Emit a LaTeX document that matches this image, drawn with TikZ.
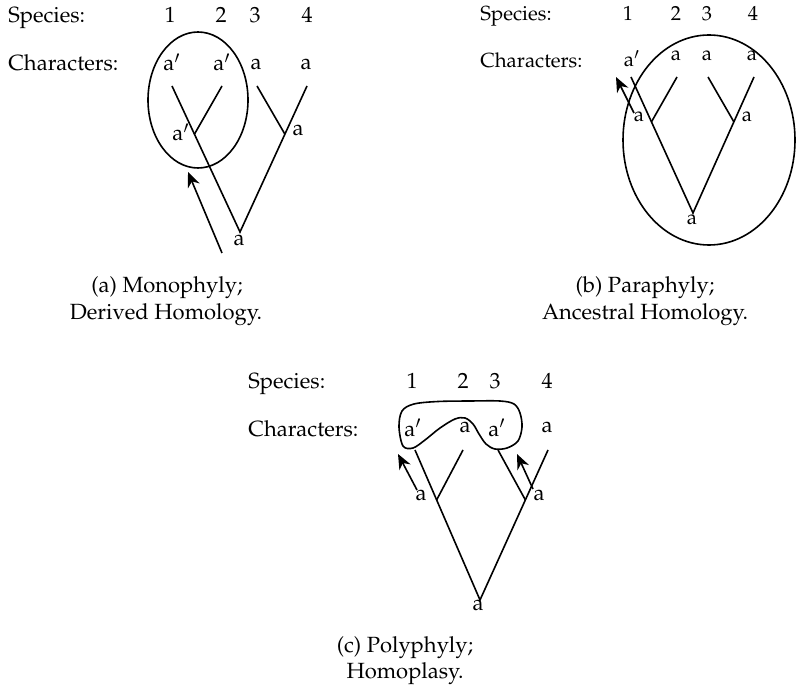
\documentclass[tikz,border=0pt]{standalone}
\usepackage[T1]{fontenc}
\usepackage{mathpazo}
\usetikzlibrary{arrows.meta,calc,shapes.geometric}
\begin{document}
\begin{tikzpicture}[x=0.5pt,y=-0.5pt,
  txa/.style={inner sep=0pt,font=\fontsize{11}{13}\selectfont},
  txb/.style={inner sep=0pt,font=\fontsize{10.2}{12}\selectfont},
  captxt/.style={inner sep=0pt,font=\fontsize{11}{13}\selectfont,anchor=base},
  branch/.style={line width=0.8pt},
  evo/.style={line width=0.8pt,-{Stealth[length=7.5pt,width=6.3pt,inset=2.4pt]}},
  grp/.style={line width=0.8pt}]
\useasboundingbox (0,0) rectangle (797,689);

% ---------------- (a) ----------------
\node[txa,anchor=base west] (spa) at (8,23) {Species:};
\node[txa,anchor=base west] (cha) at (8,71) {Characters:};
\node[txa,anchor=base] (na1) at (170,23) {1};
\node[txa,anchor=base] (na2) at (221,23) {2};
\node[txa,anchor=base] (na3) at (255,23) {3};
\node[txa,anchor=base] (na4) at (307,23) {4};
\node[txa,anchor=base] (ca1) at (172,71) {a$'$};
\node[txa,anchor=base] (ca2) at (222,71) {a$'$};
\node[txa,anchor=base] (ca3) at (256,70) {a};
\node[txa,anchor=base] (ca4) at (306,70) {a};
\coordinate (la1) at (172,86);
\coordinate (la2) at (222,86);
\coordinate (la3) at (257,86);
\coordinate (la4) at (307,86);
\coordinate (ra) at (240,232);
\coordinate (La) at ($(la1)!0.33!(ra)$);
\coordinate (Ra) at ($(la4)!0.33!(ra)$);
\draw[branch] (la1) -- (ra) -- (la4);
\draw[branch] (la2) -- (La);
\draw[branch] (la3) -- (Ra);
\node[txa,anchor=base] (tLa) at (181,141) {a$'$};
\node[txa,anchor=base] (tRa) at (298,136) {a};
\node[txa,anchor=base] (tra) at (239,246) {a};
\node[grp,draw,ellipse,minimum width=50pt,minimum height=68pt,inner sep=0pt] (ela) at (198,100) {};
\coordinate (aat) at (222,253);
\coordinate (aah) at (188,172);
\draw[evo] (aat) -- (aah);
\node[captxt] (capa1) at (167,293) {(a) Monophyly;};
\node[captxt] (capa2) at (166,320) {Derived Homology.};

% ---------------- (b) ----------------
\node[txb,anchor=base west] (spb) at (480,21) {Species:};
\node[txb,anchor=base west] (chb) at (480,68) {Characters:};
\node[txb,anchor=base] (nb1) at (628,21) {1};
\node[txb,anchor=base] (nb2) at (676,21) {2};
\node[txb,anchor=base] (nb3) at (707,21) {3};
\node[txb,anchor=base] (nb4) at (753,21) {4};
\node[txb,anchor=base] (cb1) at (632,67) {a$'$};
\node[txb,anchor=base] (cb2) at (676,61) {a};
\node[txb,anchor=base] (cb3) at (707,61) {a};
\node[txb,anchor=base] (cb4) at (752,61) {a};
\coordinate (lb1) at (631,77);
\coordinate (lb2) at (677,77);
\coordinate (lb3) at (708,77);
\coordinate (lb4) at (754,77);
\coordinate (rb) at (693,213);
\coordinate (Lb) at ($(lb1)!0.33!(rb)$);
\coordinate (Rb) at ($(lb4)!0.33!(rb)$);
\draw[branch] (lb1) -- (rb) -- (lb4);
\draw[branch] (lb2) -- (Lb);
\draw[branch] (lb3) -- (Rb);
\node[txb,anchor=base] (tLb) at (639,122) {a};
\node[txb,anchor=base] (tRb) at (747,122) {a};
\node[txb,anchor=base] (trb) at (692,225) {a};
\node[grp,draw,ellipse,minimum width=86pt,minimum height=105pt,inner sep=0pt] (elb) at (709,140) {};
\coordinate (abt) at (634,113);
\coordinate (abh) at (616,77);
\draw[evo] (abt) -- (abh);
\node[captxt] (capb1) at (645,293) {(b) Paraphyly;};
\node[captxt] (capb2) at (645,320) {Ancestral Homology.};

% ---------------- (c) ----------------
\node[txa,anchor=base west] (spc) at (248,388) {Species:};
\node[txa,anchor=base west] (chc) at (248,436) {Characters:};
\node[txa,anchor=base] (nc1) at (412,388) {1};
\node[txa,anchor=base] (nc2) at (463,388) {2};
\node[txa,anchor=base] (nc3) at (495,388) {3};
\node[txa,anchor=base] (nc4) at (547,388) {4};
\node[txa,anchor=base] (cc1) at (413,436) {a$'$};
\node[txa,anchor=base] (cc2) at (465,432) {a};
\node[txa,anchor=base] (cc3) at (497,436) {a$'$};
\node[txa,anchor=base] (cc4) at (547,432) {a};
\coordinate (lc1) at (415,450);
\coordinate (lc2) at (463,450);
\coordinate (lc3) at (498,450);
\coordinate (lc4) at (548,450);
\coordinate (rc) at (480,600);
\coordinate (Lc) at ($(lc1)!0.333!(rc)$);
\coordinate (Rc) at ($(lc4)!0.333!(rc)$);
\draw[branch] (lc1) -- (rc) -- (lc4);
\draw[branch] (lc2) -- (Lc);
\draw[branch] (lc3) -- (Rc);
\node[txa,anchor=base] (tLc) at (421,500) {a};
\node[txa,anchor=base] (tRc) at (539,500) {a};
\node[txa,anchor=base] (trc) at (478,610) {a};
\draw[grp] plot[smooth cycle,tension=0.55] coordinates {
  (399,427) (402,411) (414,404) (438,401.5) (470,401) (500,401) (514,404)
  (520,413) (522,427) (518,441) (507,448) (495,449) (486,444) (479,434)
  (473,424) (465,418) (455,419) (440,428) (425,440) (413,448) (403,446)};
\coordinate (act1) at (417,490);
\coordinate (ach1) at (398,454);
\coordinate (act2) at (533,489);
\coordinate (ach2) at (517,454);
\draw[evo] (act1) -- (ach1);
\draw[evo] (act2) -- (ach2);
\node[captxt] (capc1) at (405,652) {(c) Polyphyly;};
\node[captxt] (capc2) at (405,678) {Homoplasy.};
\end{tikzpicture}
\end{document}
